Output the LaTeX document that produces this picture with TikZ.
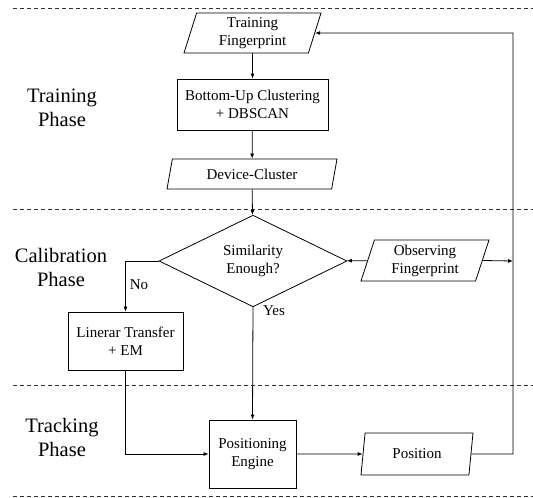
\documentclass[tikz,border=0pt]{standalone}
\usepackage{fontspec}
\setmainfont{Liberation Serif}
\usetikzlibrary{shapes.geometric,arrows.meta}
\begin{document}
\begin{tikzpicture}[x=1pt,y=-1pt,
  every node/.style={font=\fontsize{15}{18}\selectfont},
  boxnode/.style={draw,line width=0.8pt,rectangle,inner sep=0pt,align=center},
  datanode/.style={draw,line width=0.8pt,trapezium,trapezium left angle=68,trapezium right angle=112,trapezium stretches body,inner sep=0pt,align=center},
  decnode/.style={draw,line width=0.8pt,diamond,inner sep=0pt,align=center},
  phase/.style={align=center,font=\fontsize{20.5}{24}\selectfont},
  conn/.style={line width=0.8pt,-{Latex[length=5pt,width=4pt]}},
  plain/.style={line width=0.8pt},
  sep/.style={line width=0.6pt,dash pattern=on 4pt off 3pt,black!80}
]
\useasboundingbox (0,0) rectangle (533,498);
\draw[sep] (13,8) coordinate (s1a) -- (533,8) coordinate (s1b);
\draw[sep] (13,209) coordinate (s2a) -- (533,209) coordinate (s2b);
\draw[sep] (13,385) coordinate (s3a) -- (533,385) coordinate (s3b);
\draw[sep] (13,496) coordinate (s4a) -- (533,496) coordinate (s4b);

\node[phase] (p1) at (62,108) {Training\\Phase};
\node[phase] (p2) at (61,267) {Calibration\\Phase};
\node[phase] (p3) at (62,437) {Tracking\\Phase};

\node[datanode,minimum width=137pt,minimum height=40pt] (tf) at (252.5,33) {Training\\Fingerprint};
\node[boxnode,minimum width=151pt,minimum height=51pt] (bu) at (252.5,104.5) {Bottom-Up Clustering\\+ DBSCAN};
\node[datanode,trapezium left angle=63,trapezium right angle=117,minimum width=170pt,minimum height=30pt] (dc) at (252,174) {Device-Cluster};
\node[decnode,minimum width=188pt,minimum height=67pt] (sim) at (253,261) {Similarity\\Enough?};
\node[datanode,trapezium left angle=67,trapezium right angle=113,minimum width=128pt,minimum height=41pt] (of) at (425,260.5) {Observing\\Fingerprint};
\node[boxnode,minimum width=115pt,minimum height=58pt] (lt) at (125.5,341) {Linerar Transfer\\+ EM};
\node[boxnode,minimum width=87pt,minimum height=68pt] (pe) at (252.5,454) {Positioning\\Engine};
\node[datanode,minimum width=112pt,minimum height=42pt] (pos) at (417,454) {Position};

\node (no) at (139,285) {No};
\node (yes) at (274,311) {Yes};

\coordinate (rtop) at (513,33);
\coordinate (rbot) at (513,454);
\coordinate (rmid) at (513,261);

\draw[conn] (tf) -- (bu);
\draw[conn] (bu) -- (dc);
\draw[conn] (dc) -- (sim);
\draw[conn] (of) -- (sim);
\draw[conn] (of.east) -- (rmid);
\draw[conn] (sim.west) -| (lt.north);
\draw[conn] (sim.south) -- (pe.north);
\draw[conn] (lt.south) |- (pe.west);
\draw[conn] (pe) -- (pos);
\draw[conn] (pos.east) -- (rbot) -- (rtop) -- (tf.east);
\end{tikzpicture}
\end{document}
